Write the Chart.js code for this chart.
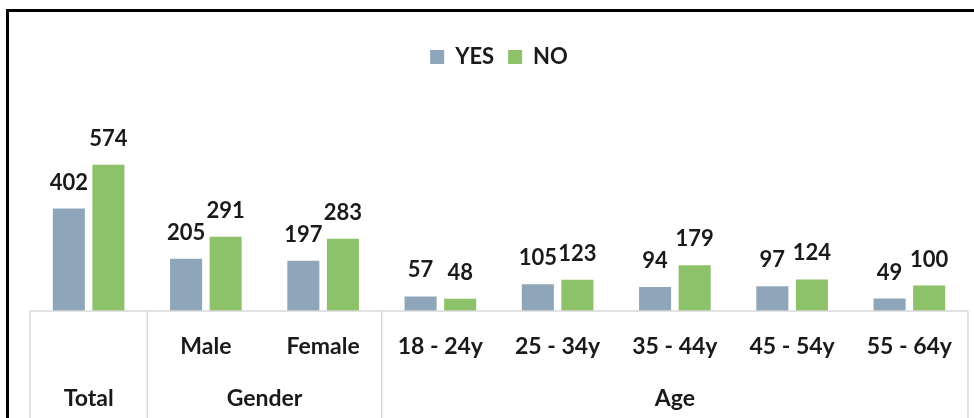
<!DOCTYPE html>
<html>
<head>
<meta charset="utf-8">
<script src="https://cdn.jsdelivr.net/npm/chart.js@4"></script>
<style>
  html, body { margin: 0; padding: 0; background: #fff; }
  #wrap { width: 974px; height: 418px; position: relative; }
</style>
</head>
<body>
<div id="wrap"><canvas id="c" width="974" height="418"></canvas></div>
<script>
// ---- data ----
const categories = ['Total', 'Male', 'Female', '18 - 24y', '25 - 34y', '35 - 44y', '45 - 54y', '55 - 64y'];
const tickLabels = ['', 'Male', 'Female', '18 - 24y', '25 - 34y', '35 - 44y', '45 - 54y', '55 - 64y'];
const groupLabels = ['Total', 'Gender', 'Age'];
const groupSizes = [1, 2, 5];
const yesValues = [402, 205, 197, 57, 105, 94, 97, 49];
const noValues = [574, 291, 283, 48, 123, 179, 124, 100];

const FONT = 'Lato, "Open Sans", sans-serif';
const WEIGHT = 'bold';
const TEXT = '#1a1a1a';
const GRID = '#d9d9d9';

const framePlugin = {
  id: 'frame',
  beforeDraw(chart) {
    const ctx = chart.ctx;
    ctx.save();
    ctx.fillStyle = '#fff';
    ctx.fillRect(0, 0, chart.width, chart.height);
    ctx.fillStyle = '#000';
    ctx.fillRect(6, 9, chart.width - 6, 3);
    ctx.fillRect(6, 9, 3, chart.height - 9);
    ctx.restore();
  }
};

const axisPlugin = {
  id: 'multiAxis',
  afterDraw(chart) {
    const ctx = chart.ctx;
    const xs = chart.scales.x;
    const area = chart.chartArea;
    const n = categories.length;
    const cw = (area.right - area.left) / n;
    const base = area.bottom;
    const bottom = chart.height;
    ctx.save();
    ctx.strokeStyle = GRID;
    ctx.lineWidth = 1.5;
    ctx.beginPath();
    ctx.moveTo(area.left, base);
    ctx.lineTo(area.right, base);
    ctx.stroke();
    // group boundaries
    let idx = 0;
    const bounds = [xs.getPixelForValue(0) - cw / 2];
    groupSizes.forEach(s => { idx += s; bounds.push(xs.getPixelForValue(idx - 1) + cw / 2); });
    ctx.beginPath();
    bounds.forEach(b => { ctx.moveTo(b, base); ctx.lineTo(b, bottom); });
    ctx.stroke();
    // tick labels row 1
    ctx.fillStyle = TEXT;
    ctx.font = WEIGHT + ' 23px ' + FONT;
    ctx.textAlign = 'center';
    ctx.textBaseline = 'alphabetic';
    tickLabels.forEach((t, i) => {
      if (t) ctx.fillText(t, xs.getPixelForValue(i), base + 43);
    });
    // group labels row 2
    idx = 0;
    groupLabels.forEach((g, gi) => {
      const x0 = xs.getPixelForValue(idx) - cw / 2;
      idx += groupSizes[gi];
      const x1 = xs.getPixelForValue(idx - 1) + cw / 2;
      ctx.fillText(g, (x0 + x1) / 2, base + 95);
    });
    ctx.restore();
  }
};

const labelPlugin = {
  id: 'valueLabels',
  afterDatasetsDraw(chart) {
    const ctx = chart.ctx;
    ctx.save();
    ctx.fillStyle = TEXT;
    ctx.font = WEIGHT + ' 22px ' + FONT;
    ctx.textAlign = 'center';
    ctx.textBaseline = 'alphabetic';
    chart.data.datasets.forEach((ds, di) => {
      chart.getDatasetMeta(di).data.forEach((el, i) => {
        ctx.fillText(String(ds.data[i]), el.x, el.y - 19);
      });
    });
    ctx.restore();
  }
};

new Chart(document.getElementById('c'), {
  type: 'bar',
  data: {
    labels: categories,
    datasets: [
      { label: 'YES', data: yesValues, backgroundColor: '#8FA6BA', borderWidth: 0,
        categoryPercentage: 0.675, barPercentage: 0.81 },
      { label: 'NO', data: noValues, backgroundColor: '#8DC26B', borderWidth: 0,
        categoryPercentage: 0.675, barPercentage: 0.81 }
    ]
  },
  options: {
    responsive: false,
    animation: false,
    layout: { padding: { top: 32, left: 30, right: 6, bottom: 107 } },
    scales: {
      x: { display: false, offset: true },
      y: { display: false, min: 0, max: 914 }
    },
    plugins: {
      tooltip: { enabled: false },
      legend: {
        position: 'top',
        labels: {
          boxWidth: 14, boxHeight: 14, padding: 14,
          color: TEXT, font: { family: FONT, size: 22, weight: WEIGHT }
        }
      }
    }
  },
  plugins: [framePlugin, axisPlugin, labelPlugin]
});
</script>
</body>
</html>
